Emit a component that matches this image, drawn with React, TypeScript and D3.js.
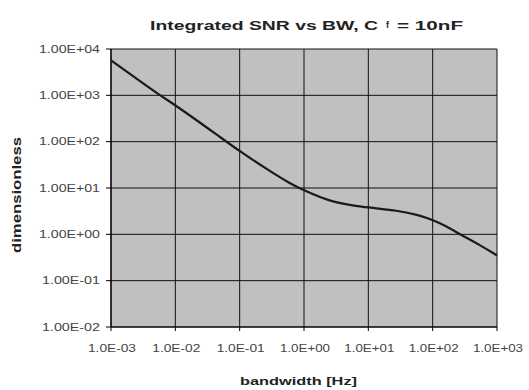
import React from 'react';
import * as d3 from 'd3';

// bandwidth [Hz] and integrated SNR
const bandwidth = [1e-3, 5.7e-3, 1e-2, 5e-2, 1e-1, 0.29, 0.6, 1, 2.5, 7.4, 31, 60, 100, 155, 267, 550, 1000];
const snr = [5700, 1000, 620, 125, 62, 23.5, 12.6, 8.9, 5.1, 3.9, 3.25, 2.6, 2.05, 1.55, 1.0, 0.58, 0.35];

const xTicks = [1e-3, 1e-2, 1e-1, 1e0, 1e1, 1e2, 1e3];
const xTickLabels = ['1.0E-03', '1.0E-02', '1.0E-01', '1.0E+00', '1.0E+01', '1.0E+02', '1.0E+03'];
const yTicks = [1e-2, 1e-1, 1e0, 1e1, 1e2, 1e3, 1e4];
const yTickLabels = ['1.00E-02', '1.00E-01', '1.00E+00', '1.00E+01', '1.00E+02', '1.00E+03', '1.00E+04'];

const W = 529;
const H = 390;
const left = 111;
const right = 497;
const top = 49;
const bottom = 327;

export default function App() {
  const x = d3.scaleLog().domain([1e-3, 1e3]).range([left, right]);
  const y = d3.scaleLog().domain([1e-2, 1e4]).range([bottom, top]);

  const line = d3
    .line<number>()
    .x((_, i) => x(bandwidth[i]))
    .y((d) => y(d))
    .curve(d3.curveBasis);

  const font = 'Arial, "Liberation Sans", Helvetica, sans-serif';

  return (
    <div style={{ position: 'absolute', left: 0, top: 0 }}>
      <svg width={W} height={H} style={{ display: 'block', background: '#fff' }} fontFamily={font}>
        <rect x={left} y={top} width={right - left} height={bottom - top} fill="#c0c0c0" />
        {/* grid */}
        {yTicks.map((t) => (
          <line key={'gy' + t} x1={left} x2={right} y1={y(t)} y2={y(t)} stroke="#111" strokeWidth={1} />
        ))}
        {xTicks.map((t) => (
          <line key={'gx' + t} x1={x(t)} x2={x(t)} y1={top} y2={bottom} stroke="#111" strokeWidth={1} />
        ))}
        {/* ticks */}
        {yTicks.map((t) => (
          <line key={'ty' + t} x1={left - 5} x2={left} y1={y(t)} y2={y(t)} stroke="#000" />
        ))}
        {xTicks.map((t) => (
          <line key={'tx' + t} x1={x(t)} x2={x(t)} y1={bottom} y2={bottom + 4} stroke="#000" />
        ))}
        <line x1={left} x2={left} y1={top} y2={bottom} stroke="#000" strokeWidth={1.2} />
        <line x1={left} x2={right} y1={bottom} y2={bottom} stroke="#000" strokeWidth={1.2} />

        <path d={line(snr) || ''} fill="none" stroke="#1a1a1a" strokeWidth={2.2} />

        {yTicks.map((t, i) => (
          <text
            key={'ly' + t}
            x={100}
            y={y(t) + 3.5}
            textAnchor="end"
            fontSize={10}
            fill="#444"
            textLength={yTickLabels[i].includes('-') ? 58 : 61}
            lengthAdjust="spacingAndGlyphs"
          >
            {yTickLabels[i]}
          </text>
        ))}
        {xTicks.map((t, i) => (
          <text
            key={'lx' + t}
            x={x(t) + 1}
            y={352}
            textAnchor="middle"
            fontSize={10}
            fill="#444"
            textLength={xTickLabels[i].includes('-') ? 48 : 50}
            lengthAdjust="spacingAndGlyphs"
          >
            {xTickLabels[i]}
          </text>
        ))}

        <text x={150} y={30} fontSize={13} fontWeight="bold" fill="#222" textLength={228} lengthAdjust="spacingAndGlyphs">
          Integrated SNR vs BW, C
        </text>
        <text x={386} y={28} fontSize={9} fontWeight="bold" fill="#222">
          f
        </text>
        <text x={397} y={30} fontSize={13} fontWeight="bold" fill="#222" textLength={66} lengthAdjust="spacingAndGlyphs">
          = 10nF
        </text>
        <text x={240} y={385} fontSize={11} fontWeight="bold" fill="#222" textLength={117} lengthAdjust="spacingAndGlyphs">
          bandwidth [Hz]
        </text>
        <text
          transform={`translate(21,195) rotate(-90)`}
          textAnchor="middle"
          fontSize={12}
          fontWeight="bold"
          fill="#222"
          textLength={116}
          lengthAdjust="spacingAndGlyphs"
        >
          dimensionless
        </text>
      </svg>
    </div>
  );
}
